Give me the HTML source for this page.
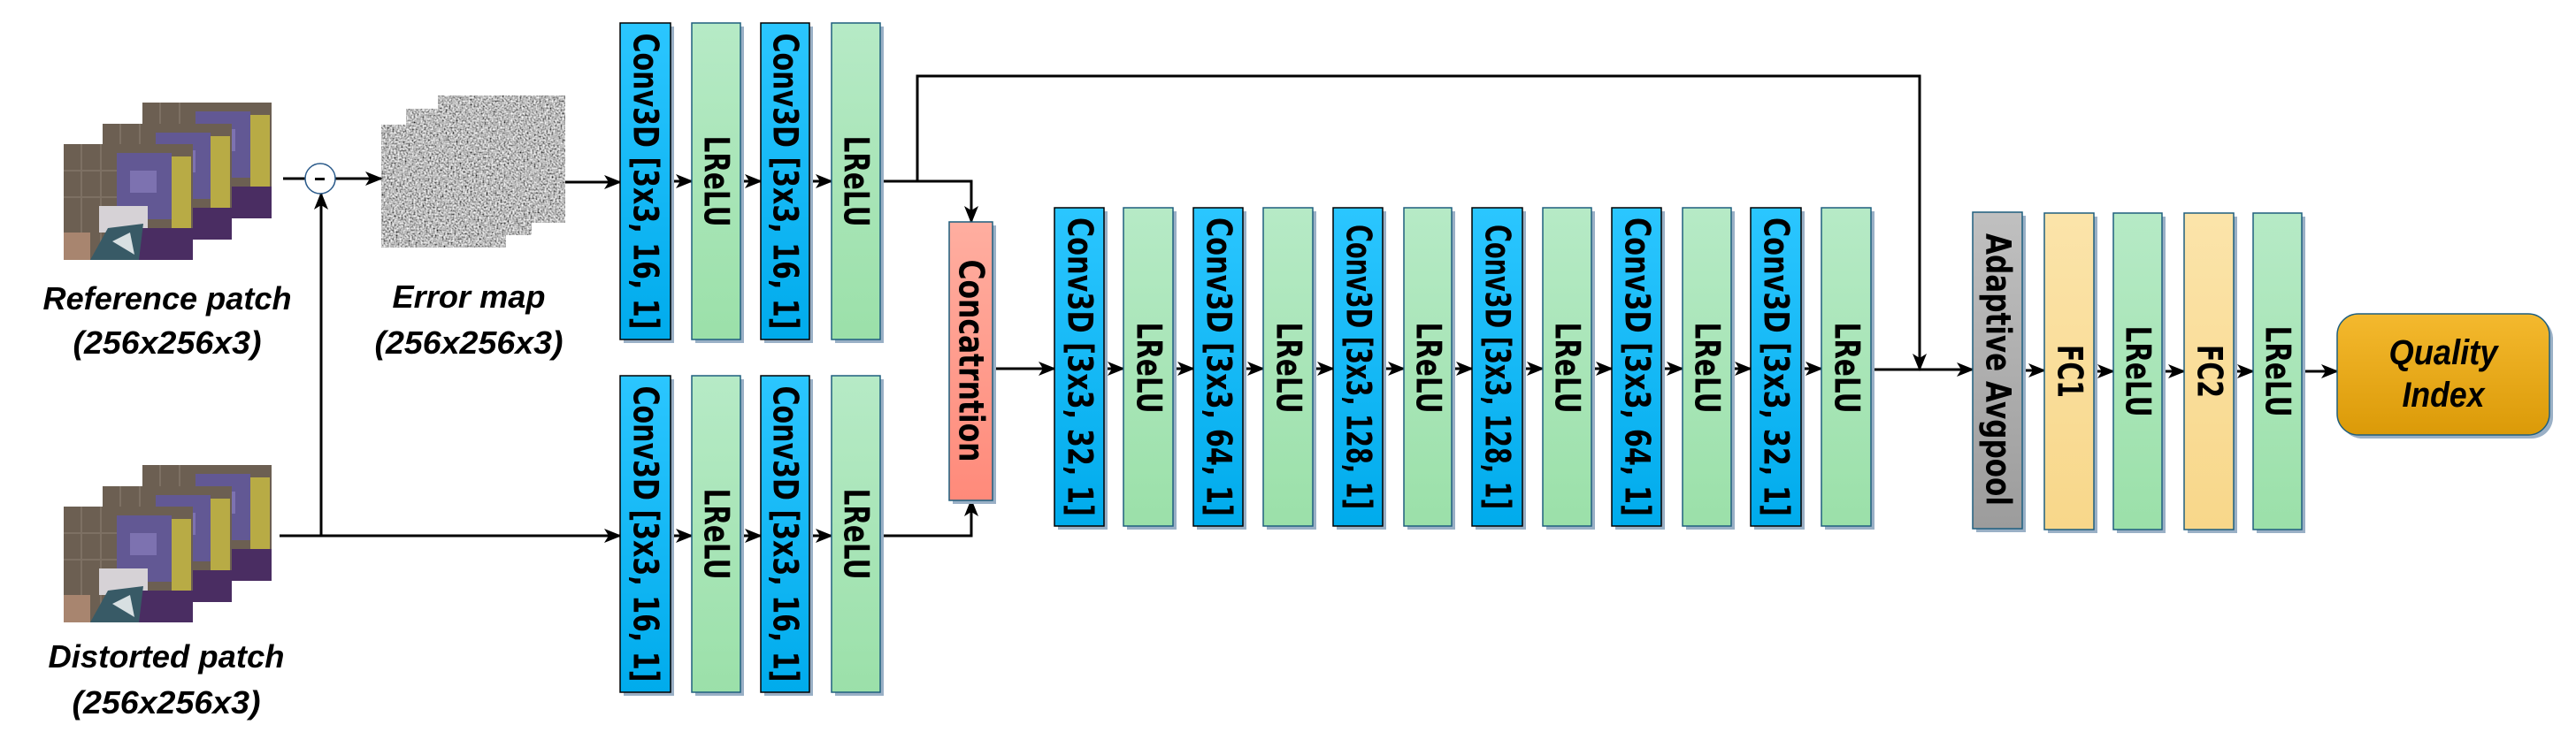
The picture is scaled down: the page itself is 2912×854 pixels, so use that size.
<!DOCTYPE html>
<html><head><meta charset="utf-8"><style>
html,body{margin:0;padding:0;background:#fff;}
svg{display:block;}
.bt{font-family:"DejaVu Sans","Liberation Sans",sans-serif;font-weight:bold;fill:#000;}
.cap{font-family:"Liberation Sans",sans-serif;font-weight:bold;font-style:italic;fill:#000;}
</style></head><body>
<svg width="2912" height="854" viewBox="0 0 2912 854" xmlns="http://www.w3.org/2000/svg">
<defs>
<linearGradient id="gc" x1="0" y1="0" x2="0" y2="1"><stop offset="0" stop-color="#2bc6ff"/><stop offset="1" stop-color="#00abec"/></linearGradient>
<linearGradient id="gl" x1="0" y1="0" x2="0" y2="1"><stop offset="0" stop-color="#b6eac6"/><stop offset="1" stop-color="#9be0a9"/></linearGradient>
<linearGradient id="gr" x1="0" y1="0" x2="0" y2="1"><stop offset="0" stop-color="#ffaea0"/><stop offset="1" stop-color="#ff8a7a"/></linearGradient>
<linearGradient id="gg" x1="0" y1="0" x2="0" y2="1"><stop offset="0" stop-color="#c0c0c0"/><stop offset="1" stop-color="#9c9c9c"/></linearGradient>
<linearGradient id="gf" x1="0" y1="0" x2="0" y2="1"><stop offset="0" stop-color="#fbe4aa"/><stop offset="1" stop-color="#f8d78a"/></linearGradient>
<linearGradient id="gq" x1="0" y1="0" x2="0" y2="1"><stop offset="0" stop-color="#f4b92e"/><stop offset="1" stop-color="#db9a08"/></linearGradient>
<marker id="ah" markerUnits="userSpaceOnUse" markerWidth="20" markerHeight="16" refX="18" refY="8" orient="auto">
<path d="M0,0 L20,8 L0,16 L5,8 Z" fill="#000"/></marker>
<filter id="noise" x="0" y="0" width="100%" height="100%">
<feTurbulence type="fractalNoise" baseFrequency="0.5" numOctaves="2" seed="3"/>
<feColorMatrix type="matrix" values="1.6 0 0 0 -0.3 1.6 0 0 0 -0.3 1.6 0 0 0 -0.3 0 0 0 0 1"/>
</filter>
<g id="patch">
<rect x="0" y="0" width="146" height="131" fill="#6c5f52"/>
<path d="M20,0V131M42,0V131M0,30H60M0,60H60" stroke="#7d7063" stroke-width="2"/>
<rect x="60" y="10" width="62" height="75" fill="#625894"/>
<rect x="75" y="30" width="30" height="25" fill="#7d72b0"/>
<rect x="40" y="70" width="55" height="30" fill="#d6d2d6"/>
<rect x="122" y="14" width="22" height="90" fill="#b8ab45"/>
<rect x="85" y="95" width="61" height="36" fill="#4a2d62"/>
<path d="M30,131 L50,95 L90,90 L85,131 Z" fill="#385a66"/>
<path d="M55,110 L75,100 L80,125 Z" fill="#d8e0e2"/>
<rect x="0" y="100" width="30" height="31" fill="#a8856f"/>
</g>
</defs>

<use href="#patch" x="161" y="116"/><use href="#patch" x="116" y="140"/><use href="#patch" x="72" y="163"/>
<use href="#patch" x="161" y="526"/><use href="#patch" x="116" y="550"/><use href="#patch" x="72" y="573"/>

<rect x="495" y="108" width="144" height="144" filter="url(#noise)"/>
<rect x="459" y="123" width="142" height="143" filter="url(#noise)"/>
<rect x="431" y="141" width="141" height="139" filter="url(#noise)"/>

<text class="cap" x="189" y="350" font-size="36" text-anchor="middle" textLength="281" lengthAdjust="spacingAndGlyphs">Reference patch</text>
<text class="cap" x="189" y="400" font-size="36" text-anchor="middle" textLength="213" lengthAdjust="spacingAndGlyphs">(256x256x3)</text>
<text class="cap" x="530" y="348" font-size="36" text-anchor="middle" textLength="173" lengthAdjust="spacingAndGlyphs">Error map</text>
<text class="cap" x="530" y="400" font-size="36" text-anchor="middle" textLength="213" lengthAdjust="spacingAndGlyphs">(256x256x3)</text>
<text class="cap" x="188" y="755" font-size="36" text-anchor="middle" textLength="267" lengthAdjust="spacingAndGlyphs">Distorted patch</text>
<text class="cap" x="188" y="807" font-size="36" text-anchor="middle" textLength="213" lengthAdjust="spacingAndGlyphs">(256x256x3)</text>

<g stroke="#000" stroke-width="3" fill="none">
<line x1="320" y1="202" x2="345" y2="202"/>
<line x1="379" y1="202" x2="431" y2="202" marker-end="url(#ah)"/>
<line x1="316" y1="606" x2="701" y2="606" marker-end="url(#ah)"/>
<line x1="363" y1="606" x2="363" y2="219" marker-end="url(#ah)"/>
<line x1="639" y1="206" x2="701" y2="206" marker-end="url(#ah)"/>
<line x1="758" y1="205" x2="782" y2="205" marker-end="url(#ah)"/>
<line x1="837" y1="205" x2="860" y2="205" marker-end="url(#ah)"/>
<line x1="915" y1="205" x2="940" y2="205" marker-end="url(#ah)"/>
<line x1="758" y1="606" x2="782" y2="606" marker-end="url(#ah)"/>
<line x1="837" y1="606" x2="860" y2="606" marker-end="url(#ah)"/>
<line x1="915" y1="606" x2="940" y2="606" marker-end="url(#ah)"/>
<polyline points="995,205 1098,205 1098,251" marker-end="url(#ah)"/>
<polyline points="1037,205 1037,86 2170,86 2170,418" marker-end="url(#ah)"/>
<polyline points="995,606 1098,606 1098,566" marker-end="url(#ah)"/>
<line x1="1122" y1="417" x2="1192" y2="417" marker-end="url(#ah)"/>
<line x1="1248" y1="417" x2="1270" y2="417" marker-end="url(#ah)"/>
<line x1="1326" y1="417" x2="1349" y2="417" marker-end="url(#ah)"/>
<line x1="1405" y1="417" x2="1428" y2="417" marker-end="url(#ah)"/>
<line x1="1484" y1="417" x2="1507" y2="417" marker-end="url(#ah)"/>
<line x1="1563" y1="417" x2="1587" y2="417" marker-end="url(#ah)"/>
<line x1="1641" y1="417" x2="1664" y2="417" marker-end="url(#ah)"/>
<line x1="1721" y1="417" x2="1744" y2="417" marker-end="url(#ah)"/>
<line x1="1799" y1="417" x2="1822" y2="417" marker-end="url(#ah)"/>
<line x1="1878" y1="417" x2="1902" y2="417" marker-end="url(#ah)"/>
<line x1="1957" y1="417" x2="1979" y2="417" marker-end="url(#ah)"/>
<line x1="2036" y1="417" x2="2059" y2="417" marker-end="url(#ah)"/>
<line x1="2115" y1="418" x2="2230" y2="418" marker-end="url(#ah)"/>
<line x1="2286" y1="419" x2="2311" y2="419" marker-end="url(#ah)"/>
<line x1="2367" y1="420" x2="2389" y2="420" marker-end="url(#ah)"/>
<line x1="2444" y1="420" x2="2469" y2="420" marker-end="url(#ah)"/>
<line x1="2525" y1="420" x2="2547" y2="420" marker-end="url(#ah)"/>
<line x1="2605" y1="420" x2="2642" y2="420" marker-end="url(#ah)"/>
</g>
<circle cx="362" cy="202" r="17" fill="#fff" stroke="#2a5a8a" stroke-width="1.5"/>
<rect x="356" y="201" width="11" height="3" fill="#000"/>

<g fill="#9ab0c6">
<rect x="705" y="30" width="57" height="358"/><rect x="786" y="30" width="55" height="358"/><rect x="864" y="30" width="55" height="358"/><rect x="944" y="30" width="55" height="358"/>
<rect x="705" y="429" width="57" height="358"/><rect x="786" y="429" width="55" height="358"/><rect x="864" y="429" width="55" height="358"/><rect x="944" y="429" width="55" height="358"/>
<rect x="1077" y="255" width="49" height="315"/>
<rect x="1196" y="239" width="56" height="360"/><rect x="1274" y="239" width="56" height="360"/><rect x="1353" y="239" width="56" height="360"/><rect x="1432" y="239" width="56" height="360"/>
<rect x="1511" y="239" width="56" height="360"/><rect x="1591" y="239" width="54" height="360"/><rect x="1668" y="239" width="57" height="360"/><rect x="1748" y="239" width="55" height="360"/>
<rect x="1826" y="239" width="56" height="360"/><rect x="1906" y="239" width="55" height="360"/><rect x="1983" y="239" width="57" height="360"/><rect x="2063" y="239" width="56" height="360"/>
<rect x="2234" y="244" width="56" height="358"/><rect x="2315" y="245" width="56" height="358"/><rect x="2393" y="245" width="55" height="358"/><rect x="2473" y="245" width="56" height="358"/><rect x="2551" y="245" width="55" height="358"/>
<rect x="2646" y="359" width="240" height="137" rx="24"/>
</g>

<g stroke-width="1.5">
<g stroke="#000"><rect x="701" y="26" width="57" height="358" fill="url(#gc)"/><rect x="860" y="26" width="55" height="358" fill="url(#gc)"/>
<rect x="701" y="425" width="57" height="358" fill="url(#gc)"/><rect x="860" y="425" width="55" height="358" fill="url(#gc)"/>
<rect x="1192" y="235" width="56" height="360" fill="url(#gc)"/><rect x="1349" y="235" width="56" height="360" fill="url(#gc)"/><rect x="1507" y="235" width="56" height="360" fill="url(#gc)"/>
<rect x="1664" y="235" width="57" height="360" fill="url(#gc)"/><rect x="1822" y="235" width="56" height="360" fill="url(#gc)"/><rect x="1979" y="235" width="57" height="360" fill="url(#gc)"/></g>
<g stroke="#1f5f7f"><rect x="782" y="26" width="55" height="358" fill="url(#gl)"/><rect x="940" y="26" width="55" height="358" fill="url(#gl)"/>
<rect x="782" y="425" width="55" height="358" fill="url(#gl)"/><rect x="940" y="425" width="55" height="358" fill="url(#gl)"/>
<rect x="1270" y="235" width="56" height="360" fill="url(#gl)"/><rect x="1428" y="235" width="56" height="360" fill="url(#gl)"/><rect x="1587" y="235" width="54" height="360" fill="url(#gl)"/>
<rect x="1744" y="235" width="55" height="360" fill="url(#gl)"/><rect x="1902" y="235" width="55" height="360" fill="url(#gl)"/><rect x="2059" y="235" width="56" height="360" fill="url(#gl)"/>
<rect x="2389" y="241" width="55" height="358" fill="url(#gl)"/><rect x="2547" y="241" width="55" height="358" fill="url(#gl)"/>
<rect x="1073" y="251" width="49" height="315" fill="url(#gr)"/>
<rect x="2230" y="240" width="56" height="358" fill="url(#gg)"/>
<rect x="2311" y="241" width="56" height="358" fill="url(#gf)"/><rect x="2469" y="241" width="56" height="358" fill="url(#gf)"/>
<rect x="2642" y="355" width="240" height="137" rx="24" fill="url(#gq)"/></g>
</g>

<g class="bt" font-size="39" text-anchor="middle" dominant-baseline="central">
<text transform="translate(729,205) rotate(90)" textLength="335" lengthAdjust="spacingAndGlyphs">Conv3D [3x3, 16, 1]</text>
<text transform="translate(887,205) rotate(90)" textLength="335" lengthAdjust="spacingAndGlyphs">Conv3D [3x3, 16, 1]</text>
<text transform="translate(729,604) rotate(90)" textLength="335" lengthAdjust="spacingAndGlyphs">Conv3D [3x3, 16, 1]</text>
<text transform="translate(887,604) rotate(90)" textLength="335" lengthAdjust="spacingAndGlyphs">Conv3D [3x3, 16, 1]</text>
<text transform="translate(809,205) rotate(90)" textLength="103" lengthAdjust="spacingAndGlyphs">LReLU</text>
<text transform="translate(967,205) rotate(90)" textLength="103" lengthAdjust="spacingAndGlyphs">LReLU</text>
<text transform="translate(809,604) rotate(90)" textLength="103" lengthAdjust="spacingAndGlyphs">LReLU</text>
<text transform="translate(967,604) rotate(90)" textLength="103" lengthAdjust="spacingAndGlyphs">LReLU</text>
<text transform="translate(1097,408) rotate(90)" textLength="229" lengthAdjust="spacingAndGlyphs">Concatrntion</text>
<text transform="translate(1220,415) rotate(90)" textLength="338" lengthAdjust="spacingAndGlyphs">Conv3D [3x3, 32, 1]</text>
<text transform="translate(1377,415) rotate(90)" textLength="338" lengthAdjust="spacingAndGlyphs">Conv3D [3x3, 64, 1]</text>
<text transform="translate(1535,415) rotate(90)" textLength="322" lengthAdjust="spacingAndGlyphs">Conv3D [3x3, 128, 1]</text>
<text transform="translate(1692,415) rotate(90)" textLength="322" lengthAdjust="spacingAndGlyphs">Conv3D [3x3, 128, 1]</text>
<text transform="translate(1850,415) rotate(90)" textLength="338" lengthAdjust="spacingAndGlyphs">Conv3D [3x3, 64, 1]</text>
<text transform="translate(2007,415) rotate(90)" textLength="338" lengthAdjust="spacingAndGlyphs">Conv3D [3x3, 32, 1]</text>
<text transform="translate(1298,416) rotate(90)" textLength="103" lengthAdjust="spacingAndGlyphs">LReLU</text>
<text transform="translate(1456,416) rotate(90)" textLength="103" lengthAdjust="spacingAndGlyphs">LReLU</text>
<text transform="translate(1614,416) rotate(90)" textLength="103" lengthAdjust="spacingAndGlyphs">LReLU</text>
<text transform="translate(1771,416) rotate(90)" textLength="103" lengthAdjust="spacingAndGlyphs">LReLU</text>
<text transform="translate(1929,416) rotate(90)" textLength="103" lengthAdjust="spacingAndGlyphs">LReLU</text>
<text transform="translate(2087,416) rotate(90)" textLength="103" lengthAdjust="spacingAndGlyphs">LReLU</text>
<text transform="translate(2258,418) rotate(90)" textLength="308" lengthAdjust="spacingAndGlyphs">Adaptive Avgpool</text>
<text transform="translate(2339,420) rotate(90)" textLength="60" lengthAdjust="spacingAndGlyphs">FC1</text>
<text transform="translate(2497,420) rotate(90)" textLength="60" lengthAdjust="spacingAndGlyphs">FC2</text>
<text transform="translate(2416,420) rotate(90)" textLength="103" lengthAdjust="spacingAndGlyphs">LReLU</text>
<text transform="translate(2574,420) rotate(90)" textLength="103" lengthAdjust="spacingAndGlyphs">LReLU</text>
</g>
<text class="cap" x="2762" y="412" font-size="40" text-anchor="middle" textLength="123" lengthAdjust="spacingAndGlyphs">Quality</text>
<text class="cap" x="2762" y="460" font-size="40" text-anchor="middle" textLength="93" lengthAdjust="spacingAndGlyphs">Index</text>
</svg>
</body></html>
